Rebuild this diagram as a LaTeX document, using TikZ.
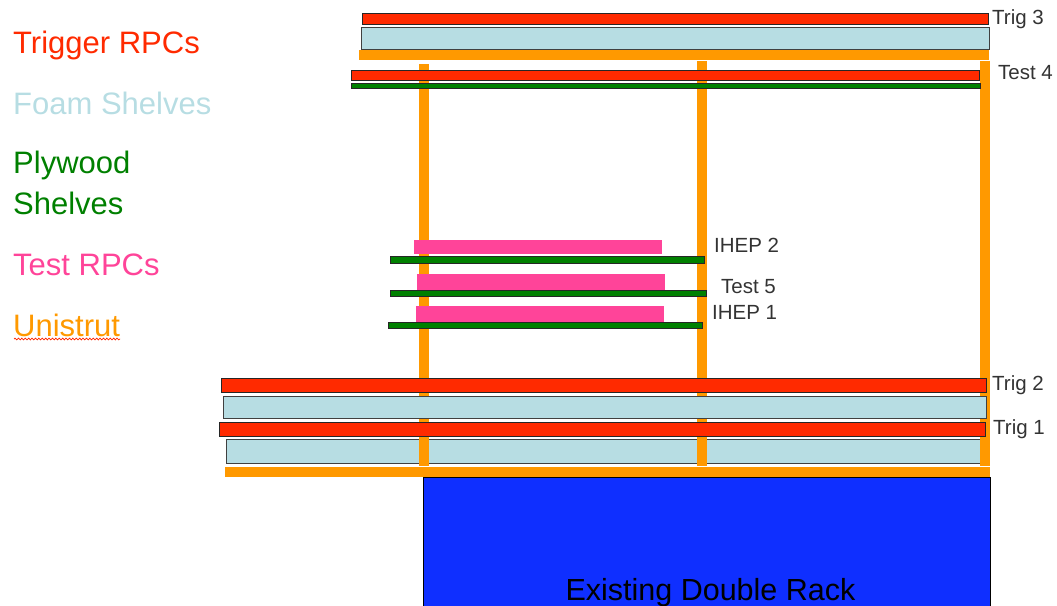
\documentclass[tikz,border=0pt]{standalone}
\usepackage{fontspec}
\setmainfont{Liberation Sans}
\usetikzlibrary{decorations.pathmorphing}
\definecolor{trigred}{HTML}{FF2A00}
\definecolor{foam}{HTML}{B7DDE3}
\definecolor{uni}{HTML}{FF9900}
\definecolor{ply}{HTML}{008000}
\definecolor{testpink}{HTML}{FF4499}
\definecolor{rack}{HTML}{0F2FFF}
\definecolor{lbl}{HTML}{333333}
\tikzset{
  x=1pt,y=-1pt,
  redbar/.style={fill=trigred,draw=black!85,line width=1pt},
  foambar/.style={fill=foam,draw=black!75,line width=1pt},
  plybar/.style={fill=ply,draw=black!85,line width=1pt},
  pinkbar/.style={fill=testpink},
  unibar/.style={fill=uni},
  rackbox/.style={fill=rack,draw=black,line width=0.8pt},
  legend/.style={anchor=base west,inner sep=0pt,font=\fontsize{31}{33}\selectfont},
  tag/.style={anchor=base west,inner sep=0pt,text=lbl,font=\fontsize{20.5}{22}\selectfont},
}
\begin{document}
\begin{tikzpicture}
\useasboundingbox (0,0) rectangle (1057,605);
\clip (0,0) rectangle (1057,605);
% lower foam sits behind the uprights
\draw[foambar] (226,439.5) rectangle (981,463);
% uprights
\fill[unibar] (419,64) rectangle (429,466);
\fill[unibar] (697,61) rectangle (707,466);
\fill[unibar] (980,61) rectangle (990,466);
% top stack
\draw[redbar] (362,13) rectangle (988,24);
\draw[foambar] (361,27) rectangle (989,49);
\fill[unibar] (359,49.5) rectangle (989,60);
\draw[redbar] (351,70) rectangle (979,80);
\draw[plybar] (351,83) rectangle (980,88);
% test RPCs
\fill[pinkbar] (414,240) rectangle (662,254);
\draw[plybar] (390.5,256) rectangle (704,263);
\fill[pinkbar] (417,274) rectangle (665,290);
\draw[plybar] (390.5,290) rectangle (706,296.5);
\fill[pinkbar] (415.5,306) rectangle (664,322);
\draw[plybar] (388,322) rectangle (702,328);
% lower stack
\draw[redbar] (221,378) rectangle (986,392);
\draw[foambar] (223,396) rectangle (986,418);
\draw[redbar] (219.5,422) rectangle (985,436);
\fill[unibar] (225,466.5) rectangle (990,477);
% rack
\draw[rackbox] (423,477.5) rectangle (990,610);
\node[anchor=base,inner sep=0pt,font=\fontsize{30.5}{32}\selectfont] (racklabel) at (710.5,600.5) {Existing Double Rack};
% tags
\node[tag] (trig3) at (992,24) {Trig 3};
\node[tag] (test4) at (998,79) {Test 4};
\node[tag] (ihep2) at (714,252) {IHEP 2};
\node[tag] (test5) at (721,293) {Test 5};
\node[tag] (ihep1) at (712,319) {IHEP 1};
\node[tag] (trig2) at (992,390) {Trig 2};
\node[tag] (trig1) at (993,434) {Trig 1};
% legend
\node[legend,text=trigred] (l1) at (13,53) {Trigger RPCs};
\node[legend,text=foam] (l2) at (13,114) {Foam Shelves};
\node[legend,text=ply] (l3) at (13,173) {Plywood};
\node[legend,text=ply] (l4) at (13,214) {Shelves};
\node[legend,text=testpink] (l5) at (13,275) {Test RPCs};
\node[legend,text=uni] (l6) at (13,336) {Unistrut};
\draw[red!70!orange,line width=0.7pt,decorate,decoration={snake,amplitude=0.9pt,segment length=3.4pt}] (14,339) -- (120,339);
\end{tikzpicture}
\end{document}
